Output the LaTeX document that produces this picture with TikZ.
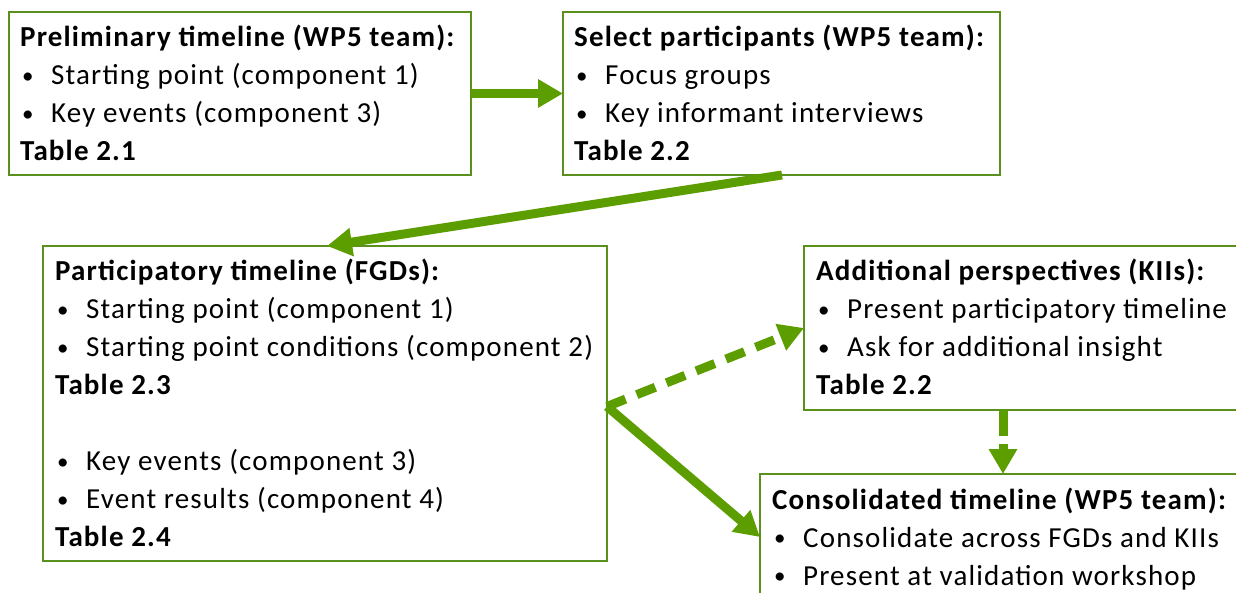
\documentclass[tikz,border=0pt]{standalone}
\usepackage{fontspec}
\setmainfont{Carlito}[LetterSpace=4]
\usetikzlibrary{arrows.meta}

\definecolor{flowgreen}{RGB}{92,158,0}
\definecolor{boxgreen}{RGB}{90,145,30}

% bullet line: small bullet, then indented text
\newcommand{\bitem}[1]{\hspace*{2pt}\makebox[29pt][l]{\raisebox{1.5pt}{\fontsize{23}{23}\selectfont\textbullet}}#1}

\tikzset{
  stagebox/.style={draw=boxgreen, line width=2pt, fill=none, anchor=north west, inner sep=0pt, outer sep=0pt},
  stagetext/.style={anchor=base west, inner sep=0pt, font=\fontsize{29}{38}\selectfont, text=black},
  flow/.style={draw=flowgreen, line width=9pt, -{Triangle[length=25pt,width=27pt]}},
  flowdash/.style={flow, dash pattern=on 20pt off 12pt},
}

\begin{document}
\begin{tikzpicture}[x=1pt,y=-1pt]
  \clip (0,0) rectangle (1236,593);
  \fill[white] (0,0) rectangle (1236,593);

  % stage boxes
  \node[stagebox, minimum width=462pt, minimum height=163pt] (b1) at (9,12) {};
  \node[stagebox, minimum width=437pt, minimum height=163pt] (b2) at (563,12) {};
  \node[stagebox, minimum width=564pt, minimum height=315pt] (b3) at (43,246) {};
  \node[stagebox, minimum width=450pt, minimum height=164pt] (b4) at (804,246) {};
  \node[stagebox, minimum width=500pt, minimum height=160pt] (b5) at (760,474) {};

  % stage contents
  \node[stagetext] (t1) at ([xshift=11pt,yshift=-35pt]b1.north west) {\parbox[t]{450pt}{%
    \textbf{Preliminary timeline (WP5 team):}\\
    \bitem{Starting point (component 1)}\\
    \bitem{Key events (component 3)}\\
    \textbf{Table 2.1}}};
  \node[stagetext] (t2) at ([xshift=11pt,yshift=-35pt]b2.north west) {\parbox[t]{430pt}{%
    \textbf{Select participants (WP5 team):}\\
    \bitem{Focus groups}\\
    \bitem{Key informant interviews}\\
    \textbf{Table 2.2}}};
  \node[stagetext] (t3) at ([xshift=12pt,yshift=-35pt]b3.north west) {\parbox[t]{550pt}{%
    \textbf{Participatory timeline (FGDs):}\\
    \bitem{Starting point (component 1)}\\
    \bitem{Starting point conditions (component 2)}\\
    \textbf{Table 2.3}\\
    \mbox{}\\
    \bitem{Key events (component 3)}\\
    \bitem{Event results (component 4)}\\
    \textbf{Table 2.4}}};
  \node[stagetext] (t4) at ([xshift=12pt,yshift=-35pt]b4.north west) {\parbox[t]{430pt}{%
    \textbf{Additional perspectives (KIIs):}\\
    \bitem{Present participatory timeline}\\
    \bitem{Ask for additional insight}\\
    \textbf{Table 2.2}}};
  \node[stagetext] (t5) at ([xshift=12pt,yshift=-35pt]b5.north west) {\parbox[t]{480pt}{%
    \textbf{Consolidated timeline (WP5 team):}\\
    \bitem{Consolidate across FGDs and KIIs}\\
    \bitem{Present at validation workshop}}};

  % connectors
  \draw[flow] (b1.east) -- (b2.west);
  \draw[flow] ([xshift=219pt]b2.south west) -- ([xshift=284pt]b3.north west);
  \draw[flowdash] ([yshift=-3pt]b3.east) -- ([yshift=-82pt]b4.north west);
  \draw[flow] ([yshift=-3pt]b3.east) -- ([yshift=-63pt]b5.north west);
  \draw[flowdash, dash pattern=on 26pt off 8pt] ([xshift=199pt]b4.south west) -- ([xshift=243pt]b5.north west);
\end{tikzpicture}
\end{document}
